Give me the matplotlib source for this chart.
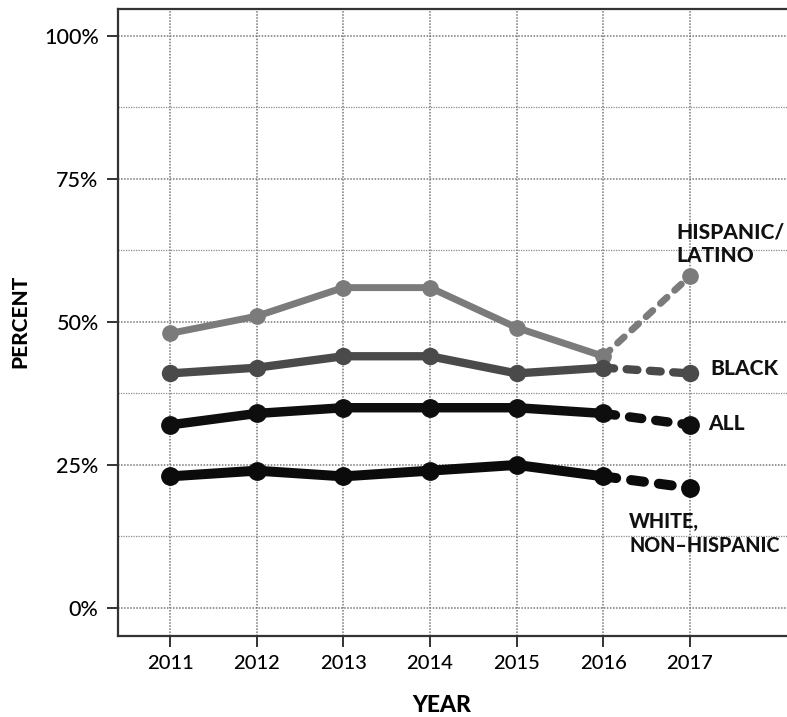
import matplotlib
matplotlib.use("Agg")
import matplotlib.pyplot as plt

plt.rcParams['font.family'] = ['Lato', 'DejaVu Sans']

# Share of people (percent) by year and group
years = [2011, 2012, 2013, 2014, 2015, 2016, 2017]
hispanic = [48, 51, 56, 56, 49, 44, 58]
black = [41, 42, 44, 44, 41, 42, 41]
all_people = [32, 34, 35, 35, 35, 34, 32]
white = [23, 24, 23, 24, 25, 23, 21]

y_ticks = [0, 25, 50, 75, 100]
y_tick_labels = ['0%', '25%', '50%', '75%', '100%']

fig = plt.figure(figsize=(7.87, 7.17), dpi=100)
ax = fig.add_axes([0.15, 0.113, 0.85, 0.8744])

# (values, colour, line width, marker size)
series = [
    (hispanic, '#7b7b7b', 5.0, 11),
    (black, '#4a4a4a', 6.0, 11.5),
    (all_people, '#0e0e0e', 6.8, 12.5),
    (white, '#0b0b0b', 7.2, 12.5),
]

for vals, col, lw, ms in series:
    # solid through 2016
    ax.plot(years[:-1], vals[:-1], color=col, lw=lw, marker='o', ms=ms,
            solid_capstyle='round', solid_joinstyle='round', zorder=3)
    # dashed projection to 2017
    ax.plot(years[-2:], vals[-2:], color=col, lw=lw, linestyle=(0, (1.3, 1.5)),
            dash_capstyle='round', zorder=3)
    ax.plot(years[-1], vals[-1], color=col, marker='o', ms=ms, zorder=4)

ax.set_xlim(2010.4, 2018.12)
ax.set_ylim(-4.9, 104.7)

ax.set_xticks(years)
ax.set_xticklabels([str(y) for y in years], fontsize=14.5, fontweight='medium')
ax.set_yticks(y_ticks)
ax.set_yticklabels(y_tick_labels, fontsize=15.5, fontweight='medium')
ax.set_yticks([12.5, 37.5, 62.5, 87.5], minor=True)
ax.tick_params(axis='both', which='major', direction='out', length=8,
               width=1.4, color='#333333', pad=6)
ax.tick_params(axis='y', which='minor', length=0)

ax.grid(True, which='major', axis='both', color='#777777', lw=1.1,
        linestyle=(0, (1, 1)))
ax.grid(True, which='minor', axis='y', color='#8a8a8a', lw=0.9,
        linestyle=(0, (1, 1)))
ax.set_axisbelow(True)

for side in ('left', 'bottom', 'top'):
    ax.spines[side].set_color('#333333')
    ax.spines[side].set_linewidth(1.6)
ax.spines['right'].set_visible(False)

fig.text(20 / 787, 1 - 321 / 717, 'PERCENT', rotation=90, ha='center',
         va='center', fontsize=15, fontweight='black')
fig.text(442 / 787, 1 - 706 / 717, 'YEAR', ha='center', va='center',
         fontsize=16.5, fontweight='black')

lab = dict(fontsize=15, fontweight='black', color='#111111', zorder=5)
ax.text(2016.84, 60.5, 'HISPANIC/\nLATINO', ha='left', va='baseline',
        linespacing=1.3, **lab)
ax.text(2017.23, black[-1] + 0.9, 'BLACK', ha='left', va='center', **lab)
ax.text(2017.21, all_people[-1] + 0.3, 'ALL', ha='left', va='center', **lab)
lab['fontsize'] = 14.2
ax.text(2016.3, 9.8, 'WHITE,\nNON\u2013HISPANIC', ha='left', va='baseline',
        linespacing=1.3, **lab)

fig.savefig('out.png', dpi=100)
